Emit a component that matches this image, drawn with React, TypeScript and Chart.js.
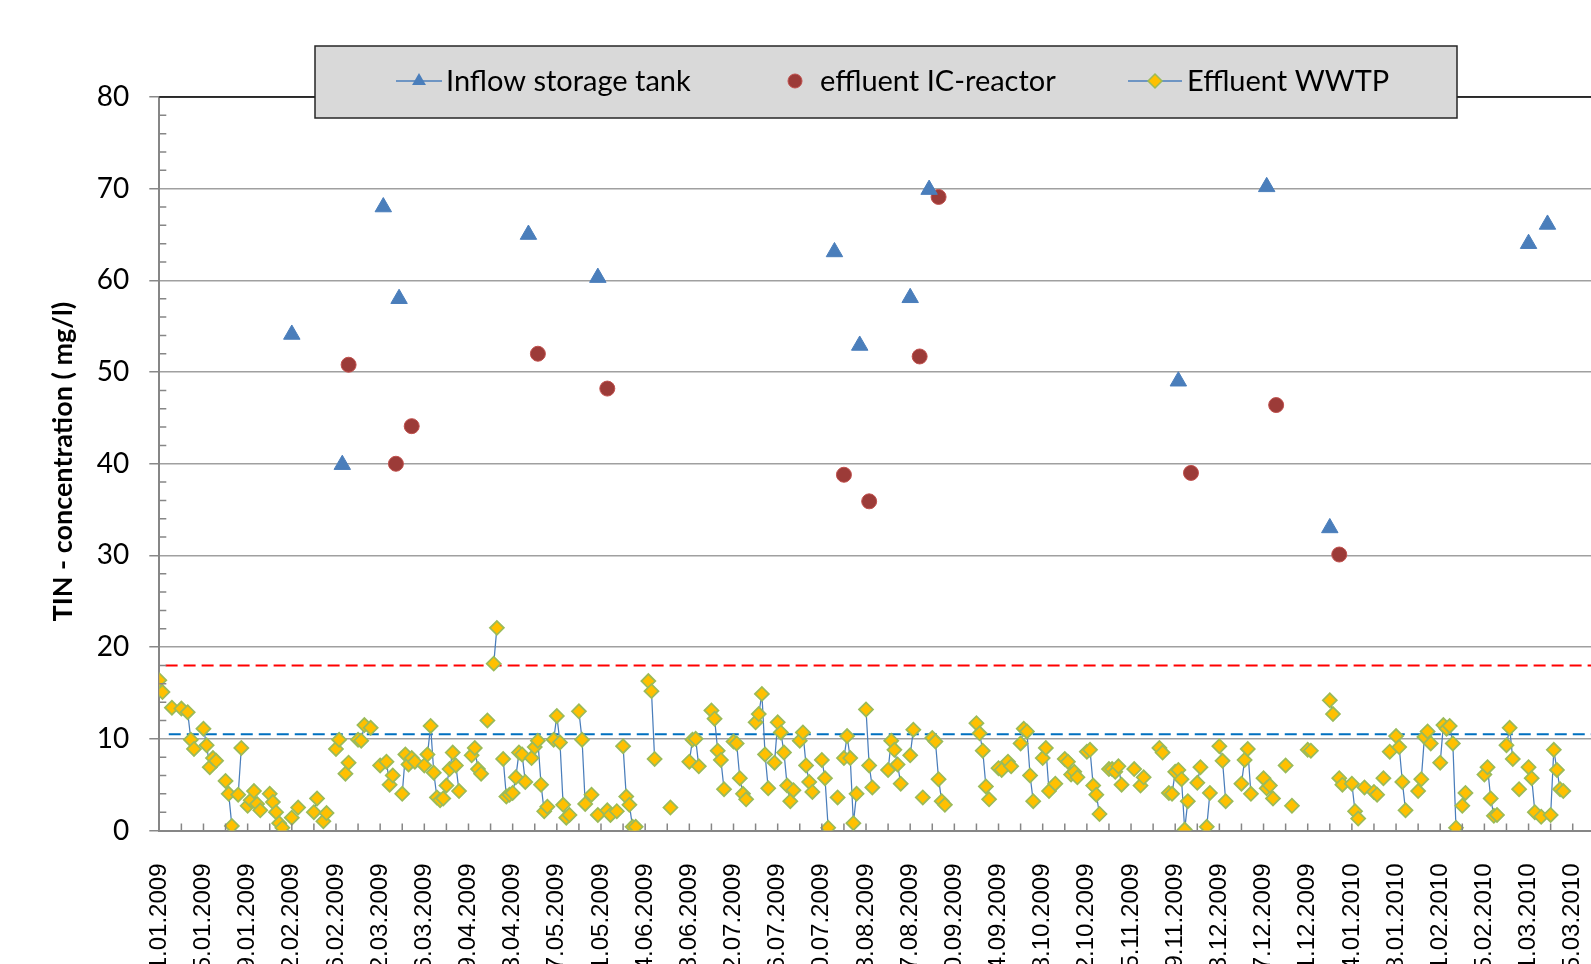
import React, { useEffect, useRef } from 'react';
import { Chart, registerables } from 'chart.js';

Chart.register(...registerables);

const seriesNames = ['Inflow storage tank', 'effluent IC-reactor', 'Effluent WWTP'];
const yAxisTitle = 'TIN - concentration ( mg/l)';
const startDateUTC = Date.UTC(2009, 0, 1);
const xMaxDay = 462;
const tickStepDays = 7;
const labelStepDays = 14;
const yMin = 0;
const yMax = 80;
const yStep = 10;
const yMinorStep = 2;
const limitRed = 18;
const limitBlue = 10.5;
const limitStartDay = 2;

const inflowDays = [42, 58, 71, 76, 117, 139, 214, 222, 238, 244, 323, 351, 371, 434, 440];
const inflowValues = [54.1, 39.9, 68.0, 58.0, 65.0, 60.3, 63.1, 52.9, 58.1, 69.9, 49.0, 70.2, 33.0, 64.0, 66.1];

const icDays = [60, 75, 80, 120, 142, 217, 225, 241, 247, 327, 354, 374];
const icValues = [50.8, 40.0, 44.1, 52.0, 48.2, 38.8, 35.9, 51.7, 69.1, 39.0, 46.4, 30.1];

const wwtpDays = [
  0, 1, 4, 7, 9, 10, 11, 14, 15, 16, 17, 18, 21, 22, 23, 25, 26, 28, 29, 30, 31, 32, 35, 36, 37, 38, 39, 42, 44, 49, 50, 52, 53, 56, 57, 59, 60, 63, 64, 65, 67, 70, 72, 73, 74,
  77, 78, 79, 80, 81, 84, 85, 86, 87, 88, 89, 90, 91, 92, 93, 94, 95, 99, 100, 101, 102, 104, 106, 107, 109, 110, 111, 112, 113, 114, 115, 116, 118, 119, 120, 121, 122, 123, 125, 126, 127, 128, 129, 130, 133, 134, 135, 137, 139, 142, 143, 145, 147, 148, 149, 150, 151,
  155, 156, 157, 162, 168, 169, 170, 171, 175, 176, 177, 178, 179, 182, 183, 184, 185, 186, 189, 190, 191, 192, 193, 195, 196, 197, 198, 199, 200, 201, 203, 204, 205, 206, 207, 210, 211, 212, 215, 217, 218, 219, 220, 221, 224, 225, 226,
  231, 232, 233, 234, 235, 238, 239, 242, 245, 246, 247, 248, 249, 259, 260, 261, 262, 263, 266, 267, 269, 270, 273, 274, 275, 276, 277, 280, 281, 282, 284, 287, 288, 289, 290, 291, 294, 295, 296, 297, 298, 301, 302,
  303, 304, 305, 309, 311, 312, 317, 318, 320, 321, 322, 323, 324, 325, 326, 329, 330, 332, 333, 336, 337, 338, 343, 344, 345, 346, 350, 351, 352, 353, 357, 359, 364, 365, 371, 372, 374, 375, 378, 379, 380,
  382, 385, 386, 388, 390, 392, 393, 394, 395, 399, 400, 401, 402, 403, 406, 407, 408, 409, 410, 411, 413, 414, 420, 421, 422, 423, 424, 427, 428, 429, 431, 434, 435, 436, 438, 441, 442, 443, 444, 445,
];
const wwtpValues = [
  16.4, 15.1, 13.4, 13.3, 12.9, 9.9, 8.9, 11.1, 9.3, 6.9, 7.9, 7.6, 5.4, 4.0, 0.5, 3.9, 9.0, 2.7, 3.3, 4.3, 2.9, 2.2, 4.0, 3.1, 2.0, 0.8, 0.3, 1.4, 2.5, 2.0, 3.5, 1.0, 1.9, 8.9, 9.9, 6.2, 7.4, 9.9, 9.8, 11.5, 11.2, 7.1, 7.5, 5.0, 6.0,
  4.0, 8.3, 7.2, 7.9, 7.5, 7.1, 8.3, 11.4, 6.3, 3.6, 3.3, 3.5, 4.9, 6.7, 8.5, 7.1, 4.3, 8.2, 9.0, 6.7, 6.2, 12.0, 18.2, 22.1, 7.8, 3.7, 3.9, 4.1, 5.8, 8.5, 8.3, 5.3, 7.9, 9.1, 9.8, 5.0, 2.1, 2.6, 9.9, 12.5, 9.6, 2.8, 1.4, 1.7, 13.0, 9.9, 2.9, 3.9, 1.7, 2.2, 1.7, 2.1, 9.2, 3.7, 2.8, 0.4, 0.4,
  16.3, 15.2, 7.8, 2.5, 7.5, 9.9, 10.0, 7.0, 13.1, 12.2, 8.7, 7.7, 4.5, 9.7, 9.5, 5.7, 4.0, 3.4, 11.8, 12.7, 14.9, 8.3, 4.6, 7.4, 11.8, 10.7, 8.5, 4.9, 3.2, 4.4, 9.8, 10.7, 7.1, 5.3, 4.2, 7.7, 5.7, 0.3, 3.6, 7.9, 10.3, 7.9, 0.8, 4.0, 13.2, 7.1, 4.7,
  6.6, 9.8, 8.8, 7.2, 5.1, 8.2, 11.0, 3.6, 10.1, 9.7, 5.6, 3.2, 2.8, 11.7, 10.6, 8.7, 4.8, 3.4, 6.8, 6.6, 7.5, 7.0, 9.5, 11.1, 10.8, 6.0, 3.2, 7.9, 9.0, 4.3, 5.1, 7.8, 7.5, 6.1, 6.4, 5.8, 8.6, 8.8, 4.9, 3.9, 1.8, 6.7, 6.7,
  6.4, 7.0, 5.0, 6.7, 4.9, 5.8, 9.0, 8.5, 4.1, 4.0, 6.4, 6.6, 5.6, 0.1, 3.2, 5.2, 6.9, 0.4, 4.1, 9.2, 7.6, 3.2, 5.1, 7.7, 8.9, 4.0, 5.7, 4.6, 4.9, 3.5, 7.1, 2.7, 8.8, 8.7, 14.2, 12.7, 5.7, 5.0, 5.1, 2.1, 1.3,
  4.7, 4.2, 3.9, 5.7, 8.6, 10.3, 9.1, 5.3, 2.2, 4.3, 5.6, 10.2, 10.8, 9.5, 7.4, 11.5, 11.1, 11.4, 9.5, 0.3, 2.7, 4.1, 6.1, 6.9, 3.5, 1.6, 1.7, 9.3, 11.2, 7.8, 4.5, 6.9, 5.7, 2.0, 1.5, 1.7, 8.8, 6.6, 4.5, 4.3,
];

const CANVAS_W = 1640;
const CANVAS_H = 1000;
const AREA_LEFT = 159.3;
const AREA_TOP = 97;
const AREA_BOTTOM = 830.5;
const AREA_RIGHT = 1616.9;

const BLUE = '#4a7ebb';
const pad2 = (n: number) => (n < 10 ? '0' + n : '' + n);
const fmtDate = (day: number) => {
  const dt = new Date(startDateUTC + day * 86400000);
  return `${pad2(dt.getUTCDate())}.${pad2(dt.getUTCMonth() + 1)}.${dt.getUTCFullYear()}`;
};

const decorPlugin = {
  id: 'decor',
  afterDraw(chart: any) {
    const { ctx, chartArea, scales } = chart;
    const xs = scales.x;
    const ys = scales.y;
    ctx.save();
    // inside tick marks
    ctx.strokeStyle = '#868686';
    ctx.lineWidth = 1.5;
    ctx.beginPath();
    xs.ticks.forEach((t: any) => {
      if (t.value <= 0) return;
      const px = xs.getPixelForValue(t.value);
      ctx.moveTo(px, chartArea.bottom);
      ctx.lineTo(px, chartArea.bottom - 7);
    });
    for (let v = yMin + yMinorStep; v < yMax; v += yMinorStep) {
      if (v % yStep === 0) continue;
      const py = ys.getPixelForValue(v);
      ctx.moveTo(chartArea.left, py);
      ctx.lineTo(chartArea.left + 7, py);
    }
    ctx.stroke();
    // top border
    ctx.strokeStyle = '#000';
    ctx.lineWidth = 1.5;
    ctx.beginPath();
    ctx.moveTo(chartArea.left, chartArea.top);
    ctx.lineTo(chartArea.right, chartArea.top);
    ctx.stroke();

    // y axis title, centred on the plot height
    ctx.save();
    ctx.translate(63, (chartArea.top + chartArea.bottom) / 2 - 2);
    ctx.rotate(-Math.PI / 2);
    ctx.fillStyle = '#000';
    ctx.font = 'bold 27px Lato';
    ctx.textAlign = 'center';
    ctx.textBaseline = 'middle';
    ctx.fillText(yAxisTitle, 0, 0, 348);
    ctx.restore();

    // legend box
    ctx.fillStyle = '#d9d9d9';
    ctx.fillRect(315, 46, 1142, 72);
    ctx.strokeStyle = '#262626';
    ctx.lineWidth = 1.5;
    ctx.strokeRect(315, 46, 1142, 72);

    const ly = 81;
    // item 1
    ctx.strokeStyle = BLUE;
    ctx.lineWidth = 1.5;
    ctx.beginPath();
    ctx.moveTo(396, ly);
    ctx.lineTo(442, ly);
    ctx.stroke();
    ctx.fillStyle = BLUE;
    ctx.beginPath();
    const r = 8;
    ctx.moveTo(419, ly - r);
    ctx.lineTo(419 + r * 0.866, ly + r * 0.5);
    ctx.lineTo(419 - r * 0.866, ly + r * 0.5);
    ctx.closePath();
    ctx.fill();
    // item 2
    ctx.fillStyle = '#9c3b38';
    ctx.strokeStyle = '#c0504d';
    ctx.lineWidth = 1;
    ctx.beginPath();
    ctx.arc(795, ly, 7, 0, Math.PI * 2);
    ctx.fill();
    ctx.stroke();
    // item 3
    ctx.strokeStyle = BLUE;
    ctx.lineWidth = 1.5;
    ctx.beginPath();
    ctx.moveTo(1128, ly);
    ctx.lineTo(1182, ly);
    ctx.stroke();
    ctx.fillStyle = '#ffc000';
    ctx.strokeStyle = '#9bbb59';
    ctx.beginPath();
    ctx.moveTo(1155, ly - 7);
    ctx.lineTo(1162, ly);
    ctx.lineTo(1155, ly + 7);
    ctx.lineTo(1148, ly);
    ctx.closePath();
    ctx.fill();
    ctx.stroke();

    ctx.fillStyle = '#000';
    ctx.font = '29px Lato';
    ctx.textBaseline = 'middle';
    ctx.textAlign = 'left';
    ctx.fillText(seriesNames[0], 446, ly + 1);
    ctx.fillText(seriesNames[1], 820, ly + 1);
    ctx.fillText(seriesNames[2], 1187, ly + 1);
    ctx.restore();
  },
};

export default function App() {
  const ref = useRef<HTMLCanvasElement | null>(null);

  useEffect(() => {
    if (!ref.current) return;
    const wwtpPoints: { x: number; y: number | null }[] = [];
    wwtpDays.forEach((d, i) => {
      if (i > 0 && d - wwtpDays[i - 1] > 1) wwtpPoints.push({ x: d - 0.5, y: null });
      wwtpPoints.push({ x: d, y: wwtpValues[i] });
    });
    const inflowPoints = inflowDays.map((d, i) => ({ x: d, y: inflowValues[i] }));
    const icPoints = icDays.map((d, i) => ({ x: d, y: icValues[i] }));

    const chart = new Chart(ref.current, {
      type: 'line',
      data: {
        datasets: [
          {
            label: seriesNames[0],
            data: inflowPoints,
            showLine: false,
            pointStyle: 'triangle',
            pointRadius: 9.5,
            backgroundColor: BLUE,
            borderColor: BLUE,
            pointBorderWidth: 1,
          },
          {
            label: seriesNames[1],
            data: icPoints,
            showLine: false,
            pointStyle: 'circle',
            pointRadius: 7.5,
            backgroundColor: '#9c3b38',
            borderColor: '#c0504d',
            pointBorderWidth: 1,
          },
          {
            label: seriesNames[2],
            data: wwtpPoints,
            spanGaps: false,
            borderColor: BLUE,
            borderWidth: 1.25,
            pointStyle: 'rectRot',
            pointRadius: 7,
            pointBackgroundColor: '#ffc000',
            pointBorderColor: '#9bbb59',
            pointBorderWidth: 1.75,
          },
          {
            label: 'limit red',
            data: [
              { x: limitStartDay, y: limitRed },
              { x: xMaxDay, y: limitRed },
            ],
            borderColor: '#ff0000',
            borderWidth: 2,
            borderDash: [12, 6],
            pointRadius: 0,
          },
          {
            label: 'limit blue',
            data: [
              { x: limitStartDay + 1, y: limitBlue },
              { x: xMaxDay, y: limitBlue },
            ],
            borderColor: '#0070c0',
            borderWidth: 2,
            borderDash: [12, 6],
            pointRadius: 0,
          },
        ],
      },
      options: {
        animation: false,
        responsive: false,
        devicePixelRatio: 1,
        layout: {
          padding: { left: 0, top: AREA_TOP, right: CANVAS_W - AREA_RIGHT, bottom: 0 },
        },
        plugins: {
          legend: { display: false },
          tooltip: { enabled: false },
        },
        scales: {
          x: {
            type: 'linear',
            min: 0,
            max: xMaxDay,
            ticks: {
              stepSize: tickStepDays,
              autoSkip: false,
              maxRotation: 90,
              minRotation: 90,
              padding: 33,
              color: '#000',
              font: { family: 'Liberation Sans', size: 24 },
              callback: (v: any) => (Number(v) % labelStepDays === 0 ? fmtDate(Number(v)) : ''),
            },
            grid: { drawOnChartArea: false, drawTicks: false },
            border: { color: '#868686', width: 2 },
            afterFit: (s: any) => {
              s.height = CANVAS_H - AREA_BOTTOM;
              s.paddingLeft = 0;
              s.paddingRight = 0;
            },
          },
          y: {
            min: yMin,
            max: yMax,
            ticks: {
              stepSize: yStep,
              padding: 20,
              color: '#000',
              font: { family: 'Lato', size: 28 },
            },
            grid: { color: '#a0a0a0', lineWidth: 1.5, tickLength: 10, tickColor: '#888888', drawTicks: true },
            border: { color: '#868686', width: 2 },
            title: { display: false },
            afterFit: (s: any) => {
              s.width = AREA_LEFT;
              s.paddingTop = 0;
              s.paddingBottom = 0;
            },
          },
        },
      },
      plugins: [decorPlugin],
    } as any);
    return () => chart.destroy();
  }, []);

  return (
    <div
      style={{
        position: 'fixed',
        left: 0,
        top: 0,
        width: 1591,
        height: 964,
        overflow: 'hidden',
        background: '#fff',
      }}
    >
      <canvas ref={ref} width={CANVAS_W} height={CANVAS_H} style={{ display: 'block' }} />
    </div>
  );
}
